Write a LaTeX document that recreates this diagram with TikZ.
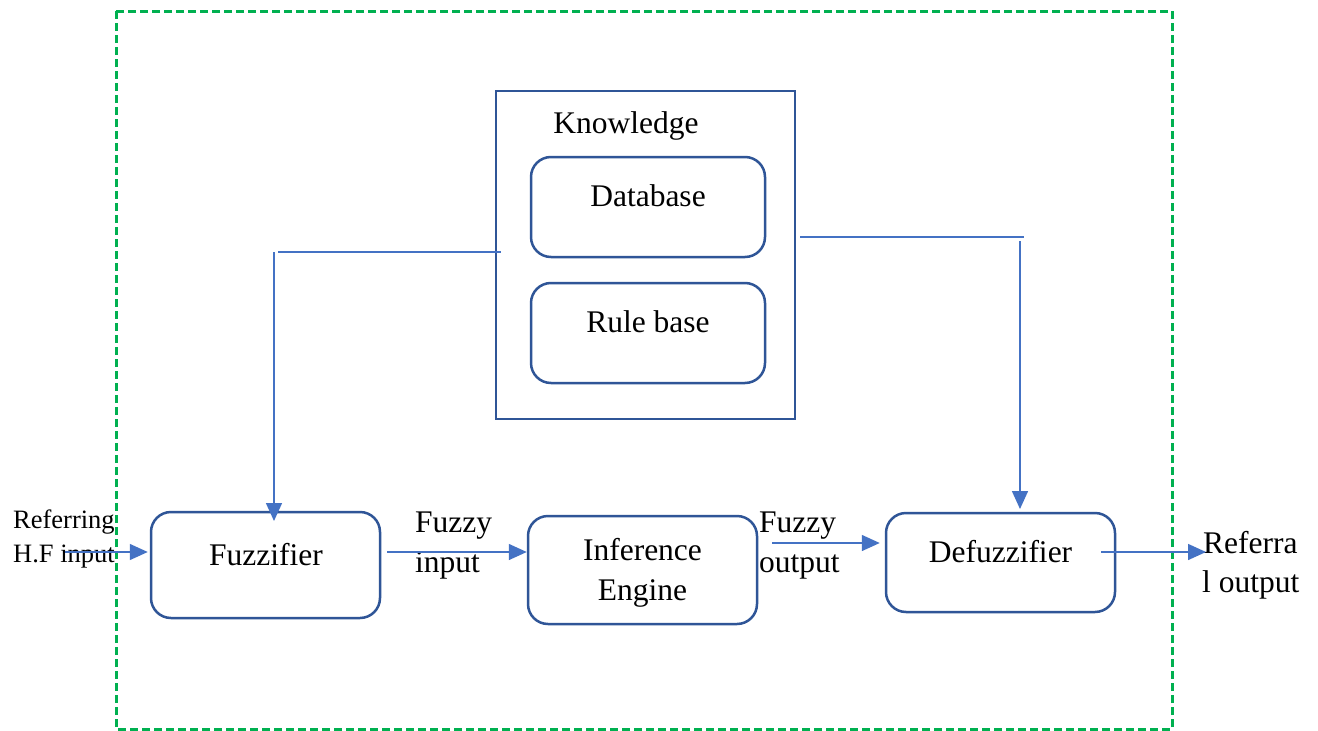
\documentclass[tikz,border=0pt]{standalone}
\usepackage{fontspec}
\setmainfont{Liberation Serif}
\usetikzlibrary{arrows.meta}
\definecolor{boxblue}{HTML}{2F5597}
\definecolor{arrowblue}{HTML}{4472C4}
\definecolor{framegreen}{HTML}{00B050}
\begin{document}
\begin{tikzpicture}[x=1pt,y=-1pt,
  block/.style={draw=boxblue, line width=2.5pt, rounded corners=20pt, inner sep=0pt},
  plainbox/.style={draw=boxblue, line width=2.5pt, inner sep=0pt},
  lbl/.style={anchor=base, inner sep=0pt, font=\fontsize{31.5}{38}\selectfont},
  lblw/.style={anchor=base west, inner sep=0pt, font=\fontsize{31.5}{38}\selectfont},
  smalllbl/.style={anchor=base west, inner sep=0pt, font=\fontsize{26.5}{32}\selectfont},
  arr/.style={draw=arrowblue, line width=1.5pt, -{Triangle[length=18pt,width=16pt]}},
  wire/.style={draw=arrowblue, line width=1.5pt}]
\useasboundingbox[fill=white] (0,0) rectangle (1318,731);

% outer system boundary
\draw[framegreen, line width=3pt, dash pattern=on 8pt off 4pt] (116,11) rectangle (1172,729);

% knowledge base
\node[plainbox, minimum width=299pt, minimum height=328pt] (know) at (645.5,255) {};
\node[lbl] (knowtxt) at (626,133) {Knowledge};
\node[block, minimum width=234pt, minimum height=100pt] (db) at (648,207) {};
\node[lbl] (dbtxt) at (648,206) {Database};
\node[block, minimum width=234pt, minimum height=100pt] (rb) at (648,333) {};
\node[lbl] (rbtxt) at (648,332) {Rule base};

% processing chain
\node[block, minimum width=229pt, minimum height=106pt] (fuzz) at (265.5,565) {};
\node[lbl] (fuzztxt) at (266,565) {Fuzzifier};
\node[block, minimum width=229pt, minimum height=108pt] (infer) at (642.5,570) {};
\node[lbl] (infertxt1) at (642.5,560) {Inference};
\node[lbl] (infertxt2) at (642.5,600) {Engine};
\node[block, minimum width=229pt, minimum height=99pt] (defuzz) at (1000.5,562.5) {};
\node[lbl] (defuzztxt) at (1000.5,562) {Defuzzifier};

% side labels
\node[smalllbl] (in1) at (13,528) {Referring};
\node[smalllbl] (in2) at (13,562) {H.F input};
\node[lblw] (fi1) at (415,532) {Fuzzy};
\node[lblw] (fi2) at (415,572) {input};
\node[lblw] (fo1) at (759,532) {Fuzzy};
\node[lblw] (fo2) at (759,572) {output};
\node[lblw] (out1) at (1203,553) {Referra};
\node[lblw] (out2) at (1202,592) {l output};

% connector end points
\coordinate (inStart) at (65,552);
\coordinate (outEnd) at (1206,552);
\coordinate (lH1) at (278,252);
\coordinate (lH2) at (501,252);
\coordinate (lV1) at (274,252);
\coordinate (lV2) at (274,521);
\coordinate (rH1) at (800,237);
\coordinate (rH2) at (1024,237);
\coordinate (rV1) at (1020,241);
\coordinate (rV2) at (1020,509);

% signal flow
\draw[arr] (inStart) -- ([xshift=-2pt,yshift=13pt]fuzz.west);
\draw[arr] ([xshift=6pt,yshift=13pt]fuzz.east) -- ([xshift=0pt,yshift=18pt]infer.west);
\draw[arr] ([xshift=14pt,yshift=27pt]infer.east) -- ([xshift=-5pt,yshift=19.5pt]defuzz.west);
\draw[arr] ([xshift=-15pt,yshift=10.5pt]defuzz.east) -- (outEnd);

% knowledge feeds
\draw[wire] (lH1) -- (lH2);
\draw[arr] (lV1) -- (lV2);
\draw[wire] (rH1) -- (rH2);
\draw[arr] (rV1) -- (rV2);
\end{tikzpicture}
\end{document}
